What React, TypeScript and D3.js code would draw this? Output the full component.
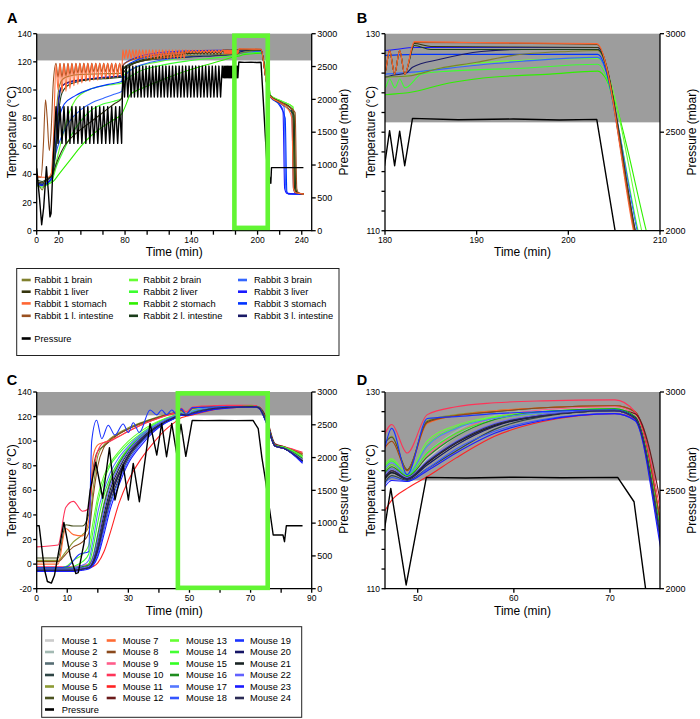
import React from 'react';
import * as d3 from 'd3';

type Pt = [number, number];
const FONT = 'Liberation Sans, Arial, Helvetica, sans-serif';
const zip = (t: number[], v: number[]): Pt[] => t.map((ti, i) => [ti, v[i]] as Pt);

// ---------------- Rabbit (panels A, B) ----------------
const rabbitPressurePre: Pt[] = [[0, 950], [2.5, 500], [4.5, 90], [6.3, 350], [8.8, 975], [10.5, 600], [12, 210], [13, 260], [15, 1100]];
const sawA1Times = [17.5, 19.3, 21.1, 22.9, 24.7, 26.5, 28.3, 30.1, 31.9, 33.7, 35.5, 37.3, 39.1, 40.9, 42.7, 44.5, 46.3, 48.1, 49.9, 51.7, 53.5, 55.3, 57.1, 58.9, 60.7, 62.5, 64.3, 66.1, 67.9, 69.7, 71.5, 73.3, 75.1, 76.9];
const rabbitPressureSaw1 = [1890, 1330, 1890, 1330, 1890, 1330, 1890, 1330, 1890, 1330, 1890, 1330, 1890, 1330, 1890, 1330, 1890, 1330, 1890, 1330, 1890, 1330, 1890, 1330, 1890, 1330, 1890, 1330, 1890, 1330, 1890, 1330, 1890, 1330];
const sawA2Times = [78, 79.5, 81, 82.5, 84, 85.5, 87, 88.5, 90, 91.5, 93, 94.5, 96, 97.5, 99, 100.5, 102, 103.5, 105, 106.5, 108, 109.5, 111, 112.5, 114, 115.5, 117, 118.5, 120, 121.5, 123, 124.5, 126, 127.5, 129, 130.5, 132, 133.5, 135, 136.5, 138, 139.5, 141, 142.5, 144, 145.5, 147, 148.5, 150, 151.5, 153, 154.5, 156, 157.5, 159, 160.5, 162, 163.5, 165, 166.5, 168];
const rabbitPressureSaw2 = [2507, 2036, 2507, 2036, 2507, 2036, 2507, 2036, 2507, 2036, 2507, 2036, 2507, 2036, 2507, 2036, 2507, 2036, 2507, 2036, 2507, 2036, 2507, 2036, 2507, 2036, 2507, 2036, 2507, 2036, 2507, 2036, 2507, 2036, 2507, 2036, 2507, 2036, 2507, 2036, 2507, 2036, 2507, 2036, 2507, 2036, 2507, 2036, 2507, 2036, 2507, 2036, 2507, 2036, 2507, 2036, 2507, 2036, 2507, 2036, 2507];
const rabbitPressureBridge: Pt[] = [[168.8, 2330]];
const osc3Times = [169.5, 170.05, 170.6, 171.15, 171.7, 172.25, 172.8, 173.35, 173.9, 174.45, 175, 175.55, 176.1, 176.65, 177.2, 177.75, 178.3, 178.85, 179.4, 179.95, 180.5, 181.05, 181.6, 182.15];
const rabbitPressureOsc3 = [2505, 2330, 2505, 2330, 2505, 2330, 2505, 2330, 2505, 2330, 2505, 2330, 2505, 2330, 2505, 2330, 2505, 2330, 2505, 2330, 2508, 2330, 2505, 2330];
const rabbitPressurePost: Pt[] = [[183, 2570], [188, 2563], [194, 2567], [199, 2562], [203.1, 2565], [205.1, 2000], [208.5, 1000], [212, 722], [212.6, 960], [241.5, 960]];
const osc3Temp = [128.3, 125.9, 128.3, 125.9, 128.3, 125.9, 128.3, 125.9, 128.3, 125.9, 128.3, 125.9, 128.3, 125.9, 128.3, 125.9, 128.3, 125.9, 128.3, 125.9, 128.3, 125.9, 128.3, 125.9];

const orangeSaw1 = [118, 100, 119, 98, 119, 99, 119, 101, 119, 103, 119, 104, 119, 105, 119, 106, 119, 106, 119, 107, 119, 107, 119, 108, 119, 108, 119, 108, 119, 109, 119, 109, 119, 110];
const brownSaw1 = [119, 109, 119, 109, 119, 110, 119, 111, 119, 111, 119, 112, 119, 112, 119, 112, 119, 112, 119, 113, 119, 113, 119, 113, 119, 113, 119, 113, 119, 113, 119, 113, 119, 113];
const orangeSaw2 = [128.5, 122.5, 128.5, 122.5, 128.5, 122.5, 128.5, 122.5, 128.5, 122.5, 128.5, 122.5, 128.5, 122.5, 128.5, 122.5, 128.5, 122.5, 128.5, 122.5, 128.5, 122.5, 128.5, 122.5, 128.5, 122.5, 128.5, 122.5, 128.5, 122.5, 128.5, 122.5, 128.5, 122.5, 128.5, 122.5, 128.5, 122.5, 128.5, 126.5, 128.3, 126.5, 128.3, 126.5, 128.3, 126.5, 128.3, 126.5, 128.3, 126.5, 128.3, 126.5, 128.3, 126.5, 128.3, 126.5, 128.3, 126.5, 128.3, 126.5, 128.3];
const liverZig = [128, 125.5, 128, 125.5, 128, 125.5, 128, 125.5, 128, 125.5, 128, 125.5, 128, 125.5, 128, 125.5, 128, 125.5, 128, 125.5, 128, 125.5, 128];

const r1BrainPts: Pt[] = [[0, 33], [3, 31], [5, 29], [7, 33], [10, 37], [13, 40], [15, 48], [17, 75], [19, 95], [21, 104], [24, 108], [30, 110], [40, 111], [60, 111.5], [77, 112], [78.5, 116], [90, 119.5], [110, 122.5], [140, 124.5], [170, 125.3], [180, 125.6], [182.5, 125.7], [186, 126.5], [190, 127.1], [194, 127.8], [200, 128.2], [203.2, 128.3], [207.2, 110], [210, 97.5], [212, 95.5], [222, 91], [230, 87], [233, 84], [234.5, 30], [236, 27], [242, 26]];
const r1LiverPre: Pt[] = [[0, 35], [5, 34], [10, 37], [14, 39], [17, 46], [20, 52], [25, 60], [30, 65], [40, 72], [50, 78], [60, 84], [70, 90], [77, 94], [78.5, 112], [85, 117.5], [95, 120.5], [110, 123], [125, 124.5], [133, 125.3]];
const r1LiverPost: Pt[] = [[183.2, 129], [185, 128.7], [203.2, 128.6], [207.3, 110], [210, 98], [212, 95.5], [222, 91], [232, 86], [233.5, 30], [235, 27], [242, 26]];
const r1StomachPre: Pt[] = [[0, 39], [5, 38], [10, 38], [13, 40], [15, 62]];
const r1StomachPost: Pt[] = [[183.2, 129.2], [190, 129.1], [203.1, 129], [207.1, 110], [210, 97], [212, 95], [220, 91], [228, 86], [231, 80], [232.5, 30], [234.5, 27], [242, 26]];
const r1IntestinePre: Pt[] = [[0, 38], [4, 38], [6, 60], [8, 93], [9.5, 80], [11.4, 57], [13, 70], [15, 105]];
const r1IntestineMid: Pt[] = [[78.5, 118], [85, 121], [100, 124], [120, 126], [150, 127.3], [168, 127.6]];
const r1IntestinePost: Pt[] = [[183.2, 129.1], [203.1, 128.9], [207.2, 110], [210, 97], [212, 95], [222, 91], [230, 87], [234, 84], [235.5, 30], [237, 27], [242, 26]];
const r2BrainPts: Pt[] = [[0, 34], [5, 33], [10, 35], [14, 38], [18, 50], [25, 72], [30, 85], [35, 93], [40, 97], [50, 101], [60, 103], [70, 104], [77, 105], [78.5, 110], [90, 116], [110, 120], [140, 123.5], [170, 125], [180, 125.6], [182.5, 125.7], [184, 126.1], [190, 127], [195, 127.3], [203.2, 127.5], [208, 110], [210, 101], [212, 96], [222, 92], [232, 88], [234, 30], [236, 26.5], [242, 26]];
const r2LiverPts: Pt[] = [[0, 32], [5, 31], [10, 33], [14, 36], [18, 46], [25, 58], [30, 66], [40, 78], [50, 86], [60, 90], [70, 92], [77, 94], [78.5, 105], [90, 112], [110, 117], [140, 121], [170, 123.5], [180, 124.5], [180.5, 125.4], [181.1, 124.5], [181.6, 125.4], [182.2, 124.5], [184, 125.9], [187, 126.2], [195, 126.5], [203.2, 126.9], [207.6, 110], [210, 99], [212, 95.5], [222, 91], [232, 86], [233.5, 30], [235.5, 26.5], [242, 26]];
const r2StomachPts: Pt[] = [[0, 32], [5, 32], [10, 33], [15, 35], [20, 40], [30, 50], [40, 60], [50, 68], [60, 74], [70, 79], [77, 83], [80, 88], [85, 97], [95, 101], [110, 106], [130, 112], [150, 117], [170, 121.5], [180, 123.8], [182.5, 124], [187, 125], [190.7, 125.5], [198, 125.9], [203.2, 126.2], [208.5, 110], [210, 104], [212, 96], [222, 92], [232, 88], [234, 30], [236, 26.5], [242, 26]];
const r2IntestinePre: Pt[] = [[0, 36], [5, 35], [10, 37], [14, 40], [17, 55], [20, 85], [23, 98], [30, 104], [45, 107], [60, 108], [77, 109], [78.5, 115], [90, 120], [110, 123.5], [140, 126], [168, 127.3]];
const r2IntestinePost: Pt[] = [[183.2, 128.8], [185, 128.4], [203.2, 128.4], [207.3, 110], [210, 98], [212, 95], [222, 90], [230, 85], [233, 82], [234.5, 30], [236, 27], [242, 26]];
const r3BrainPts: Pt[] = [[0, 33], [5, 33], [10, 34], [14, 38], [16, 50], [18, 57], [22, 66], [30, 78], [40, 86], [50, 91], [60, 94], [70, 97], [77, 99], [78.5, 108], [85, 114], [100, 119], [120, 122], [150, 124.5], [180, 125.9], [183, 126.1], [190, 126.8], [195, 127.2], [203.2, 127.6], [207.5, 110], [210, 98.5], [212, 95.5], [220, 91], [224, 88], [225.5, 30], [227, 26.5], [242, 26]];
const r3LiverPts: Pt[] = [[0, 33], [5, 32], [10, 34], [14, 39], [17, 62], [19, 88], [21, 100], [25, 104], [40, 107], [60, 109], [77, 110], [78.5, 118], [90, 123], [110, 126.5], [140, 127.8], [170, 128.2], [180, 128.3], [183.3, 128.6], [203.2, 128.6], [207.2, 110], [210, 97.5], [212, 95], [220, 90], [223, 85], [224.5, 30], [226.5, 26.5], [242, 26]];
const r3StomachPts: Pt[] = [[0, 33], [5, 33], [10, 34], [14, 38], [17, 55], [20, 78], [25, 90], [35, 96], [50, 101], [65, 104], [77, 106], [78.5, 115], [90, 121], [110, 125], [140, 127], [170, 127.7], [180, 127.8], [183.3, 127.9], [203.2, 127.9], [207.2, 110], [210, 97], [212, 94.5], [220, 89], [225, 80], [226.5, 28], [228, 26], [242, 26]];
const r3IntestinePts: Pt[] = [[0, 34], [5, 33], [10, 36], [14, 40], [17, 60], [20, 92], [23, 103], [30, 106], [50, 108], [77, 110], [78.5, 115], [90, 119.5], [110, 122], [140, 123.5], [170, 124.8], [180, 125.6], [181, 125.8], [182.3, 126], [183, 126.6], [186, 127.4], [190.5, 128.2], [195, 128.4], [203.2, 128.4], [207.2, 110], [210, 97], [212, 95], [222, 91], [229, 88], [231, 85], [232.5, 30], [234, 27], [242, 26]];

const rabbitNames = ['Rabbit 1 brain', 'Rabbit 1 liver', 'Rabbit 1 stomach', 'Rabbit 1 l. intestine', 'Rabbit 2 brain', 'Rabbit 2 liver', 'Rabbit 2 stomach', 'Rabbit 2 l. intestine', 'Rabbit 3 brain', 'Rabbit 3 liver', 'Rabbit 3 stomach', 'Rabbit 3 l. intestine'];
const rabbitColors = ['#80802e', '#35350f', '#ff6633', '#9a5020', '#66ff33', '#3cff30', '#30f000', '#1b3d1b', '#3366ff', '#1a1aff', '#0033ff', '#1a1a66'];

// ---------------- Mouse (panels C, D) ----------------
const mouseGrid = [0, 7, 9.5, 12, 15, 17, 18.5, 20, 22, 24, 27, 30, 34, 38, 42, 45.8, 47.3, 48.9, 51, 54, 58, 63, 70.5, 72.6, 75.2, 78, 81, 87];
const mouse1 = [-4, -4, -4, -3, -3, -2, 4, 18, 42, 62, 80, 92, 103, 111, 117, 120.5, 122.5, 121.3, 123.2, 125.5, 127.3, 128.1, 128.4, 127.6, 116, 96, 94.5, 86];
const mouse2 = [-3, -3, -3, -3, -2, 0, 8, 25, 50, 68, 84, 95, 105, 112, 117.5, 121, 122.8, 121.5, 123.8, 126, 127.6, 128.2, 128.4, 127.6, 116.5, 96.5, 95, 88];
const mouse3 = [-4, -4, -4, -4, -3, -2, 3, 14, 36, 56, 75, 89, 101, 110, 116, 120, 122, 121.2, 122.6, 124.6, 126.6, 127.7, 128.2, 127.4, 115.5, 96, 94, 84];
const mouse4 = [-5, -5, -5, -4, -4, -3, 1, 10, 30, 50, 70, 86, 99, 108, 115, 119.5, 121.5, 121, 122.2, 124, 126.2, 127.5, 128.1, 127.3, 115, 96, 94, 83];
const mouse5 = [3, 3, 10, 18, 24, 30, 62, 88, 97, 102, 107, 111, 115, 118.5, 121.5, 123.6, 125.5, 122.1, 127.1, 127.7, 128.1, 128.4, 128.6, 128, 117, 97, 95, 90];
const mouse6 = [5, 5, 32, 31, 31, 40, 78, 92, 96, 100, 106, 110, 114.5, 118, 121, 123.8, 125.4, 122.1, 127, 127.6, 128, 128.4, 128.6, 128, 117, 97, 95, 90];
const mouse7 = [0, 0, 29, 24, 23, 35, 88, 97, 99, 101, 104, 108, 113, 117, 120.5, 123, 125, 122, 126.8, 127.6, 128.1, 128.4, 128.6, 128, 117, 97, 95.5, 90];
const mouse8 = [2, 2, 8, 14, 18, 25, 55, 80, 95, 101, 106, 110, 114, 117.5, 121, 123.3, 125, 122, 126.9, 127.6, 128, 128.4, 128.6, 128, 117, 97, 95, 89];
const mouse9 = [-2, -2, -2, -2, -1, 0, 6, 22, 48, 66, 82, 93, 103, 111, 117, 120.8, 122.6, 121.4, 123.5, 125.8, 127.4, 128.2, 128.5, 127.7, 116, 96.5, 94.5, 86];
const mouse10 = [14, 15.5, 46, 51, 43, 45, 75, 92, 99, 100, 104, 108, 113, 117, 120.5, 124, 126.7, 123.8, 127.7, 128.5, 128.9, 129.1, 129.2, 128, 118, 97, 95.5, 91];
const mouse11 = [-5, -5, -5, -5, -4, -3, -2, 1, 10, 25, 50, 68, 85, 98, 109, 116.5, 119, 120.2, 121.4, 123.3, 125.5, 127, 127.8, 127.2, 115.5, 96, 94, 85];
const mouse12 = [-4, -4, -4, -4, -3, -2, 2, 12, 34, 54, 73, 88, 100, 109, 115.5, 120, 122, 121.2, 122.8, 124.8, 126.6, 127.6, 128.2, 127.8, 119, 98, 95.5, 88];
const mouse13 = [-3, -3, -2, 3, 8, 15, 35, 55, 72, 82, 92, 100, 108, 114, 118.5, 121.6, 123.2, 121.7, 125, 126.6, 127.5, 128, 128.3, 127.5, 116, 96.5, 95, 88];
const mouse14 = [-4, -4, -4, -2, 2, 8, 28, 50, 68, 80, 90, 98, 106, 113, 118, 121.4, 123, 121.6, 124.6, 126.4, 127.4, 128, 128.3, 127.5, 116, 96.5, 95, 87];
const mouse15 = [-4, -4, -4, -4, -3, 0, 14, 34, 56, 70, 84, 94, 104, 111.5, 117, 120.8, 122.6, 121.5, 123.8, 125.8, 127.2, 127.9, 128.3, 127.5, 116, 96.5, 94.5, 86];
const mouse16 = [-3, -3, -3, -3, -2, -1, 6, 24, 48, 66, 82, 93, 103, 111, 117, 120.6, 122.4, 121.4, 123.4, 125.5, 127.2, 128, 128.3, 127.5, 116, 96.5, 94.5, 86];
const mouse17 = [-4, -4, -4, -3, -1, 3, 20, 42, 60, 74, 87, 96, 105, 112, 117.5, 121.2, 122.8, 121.6, 124.5, 126.3, 127.3, 127.9, 128.1, 127.3, 115.5, 96, 94, 84];
const mouse18 = [-5, -5, -5, -5, -4, -3, 0, 8, 28, 48, 68, 84, 98, 108, 115, 119.4, 121.3, 120.9, 122.2, 124.2, 126, 127.2, 127.8, 127.1, 115, 96, 94, 83];
const mouse19Times = [0, 7, 10, 14, 17, 18, 19.6, 21.3, 23.4, 25.6, 28.3, 30, 31.6, 33.6, 37.1, 39.3, 40.9, 42.5, 44.2, 45.8, 47.3, 48.9, 51, 54, 58, 63, 70.5, 72.6, 75.2, 78, 81, 87];
const mouse19 = [-3, -3, -2, 8, 10, 100, 117, 102, 113, 105, 114, 107, 115, 107, 125.4, 121.4, 125.4, 121.5, 125.4, 122, 126.3, 121.6, 127.3, 127.5, 127.8, 128, 128.2, 127.4, 115.5, 96, 94, 83];
const mouse20 = [-5, -5, -5, -5, -4, -3, 1, 12, 34, 54, 73, 88, 100, 109, 115.5, 120, 121.8, 121.1, 122.6, 124.6, 126.5, 127.6, 128.1, 127.3, 115.5, 96, 94, 84];
const mouse21 = [-4, -4, -4, -4, -3, -2, 4, 18, 40, 60, 78, 91, 102, 110, 116, 120, 121.8, 121.2, 122.8, 124.8, 126.6, 127.6, 128.1, 127.4, 115.5, 96, 94, 84];
const mouse22 = [-4, -4, -4, -4, -3, -2, 5, 20, 44, 63, 80, 92, 103, 111, 116.5, 120.4, 122.2, 121.3, 123, 125, 126.8, 127.7, 128.1, 127.3, 115.5, 96, 94, 85];
const mouse23 = [-6, -6, -6, -6, -5, -4, -1, 6, 24, 44, 65, 82, 96, 107, 114.5, 119.2, 121, 120.9, 122, 123.8, 125.8, 127.1, 127.8, 127.1, 114.5, 96, 94, 82];
const mouse24 = [-5, -5, -5, -5, -4, -3, 2, 14, 36, 56, 75, 89, 101, 109.5, 116, 120.2, 122, 121.2, 122.9, 124.9, 126.7, 127.6, 128.1, 127.3, 115.5, 96, 94, 84];
const mousePressure: Pt[] = [[0, 960], [0.8, 960], [2.5, 300], [3.5, 110], [4.8, 85], [5.8, 200], [8.9, 1010], [11, 500], [12.8, 230], [13.6, 245], [15.5, 700], [17.5, 1500], [19.3, 1930], [21.6, 1380], [23.8, 2150], [25.6, 1353], [28.3, 1886], [30, 1353], [31.6, 1912], [33.6, 1327], [37.1, 2522], [39.3, 2039], [40.9, 2522], [42.5, 2013], [44.2, 2522], [45.8, 2065], [47.2, 2510], [48.8, 2019], [50.9, 2566], [55, 2563], [60, 2567], [65, 2564], [70.8, 2566], [72.5, 2442], [73.7, 2000], [74.7, 1708], [77.4, 819], [80.6, 819], [81.1, 717], [81.7, 960], [87, 960]];
const mouseColors = ['#cbcbcb', '#a3bab3', '#566d73', '#2e4545', '#8c9a33', '#4b5320', '#ff6a33', '#8b4a1c', '#ff5c8a', '#ff3358', '#ff2222', '#6b1a1a', '#66ff33', '#44ff33', '#33ff22', '#1f8c1f', '#5577ff', '#3355ff', '#1a33ff', '#141466', '#1a2424', '#6161ff', '#1a1aff', '#2b2b55'];

type Series = { name: string; color: string; data: Pt[] };

const rabbitData: Pt[][] = [
  r1BrainPts,
  [...r1LiverPre, ...zip(sawA2Times.slice(38), liverZig), ...zip(osc3Times, osc3Temp), ...r1LiverPost],
  [...r1StomachPre, ...zip(sawA1Times, orangeSaw1), ...zip(sawA2Times, orangeSaw2), ...zip(osc3Times, osc3Temp), ...r1StomachPost],
  [...r1IntestinePre, ...zip(sawA1Times, brownSaw1), ...r1IntestineMid, ...zip(osc3Times, osc3Temp), ...r1IntestinePost],
  r2BrainPts, r2LiverPts, r2StomachPts,
  [...r2IntestinePre, ...zip(osc3Times, osc3Temp), ...r2IntestinePost],
  r3BrainPts, r3LiverPts, r3StomachPts, r3IntestinePts,
];
const rabbitSeries: Series[] = rabbitNames.map((n, i) => ({ name: n, color: rabbitColors[i], data: rabbitData[i] }));
const rabbitDraw = [6, 5, 4, 8, 10, 9, 11, 0, 7, 1, 3, 2].map((i) => rabbitSeries[i]);
const rabbitPressure: Pt[] = [
  ...rabbitPressurePre,
  ...zip(sawA1Times, rabbitPressureSaw1),
  ...zip(sawA2Times, rabbitPressureSaw2),
  ...rabbitPressureBridge,
  ...zip(osc3Times, rabbitPressureOsc3),
  ...rabbitPressurePost,
];

const mouseValues = [mouse1, mouse2, mouse3, mouse4, mouse5, mouse6, mouse7, mouse8, mouse9, mouse10, mouse11, mouse12, mouse13, mouse14, mouse15, mouse16, mouse17, mouse18, mouse19, mouse20, mouse21, mouse22, mouse23, mouse24];
const mouseSeries: Series[] = mouseValues.map((v, i) => ({
  name: `Mouse ${i + 1}`,
  color: mouseColors[i],
  data: i === 18 ? zip(mouse19Times, v) : zip(mouseGrid, v),
}));

const STERIL = 121;

interface PanelProps {
  letter: string;
  letterPos: [number, number];
  box: { l: number; r: number; t: number; b: number };
  xDomain: [number, number];
  yDomain: [number, number];
  pDomain: [number, number];
  xTicks: number[];
  xLabels: number[];
  yTicks: number[];
  yLabels: number[];
  pTicks: number[];
  series: Series[];
  pressure: Pt[];
  greenBox?: { t0: number; t1: number; v0: number; v1: number };
  xLabelDy: number;
  xTitleDy: number;
  yTitleX: number;
  pTitleX: number;
}

function Panel(p: PanelProps) {
  const { box } = p;
  const x = d3.scaleLinear().domain(p.xDomain).range([box.l, box.r]);
  const y = d3.scaleLinear().domain(p.yDomain).range([box.b, box.t]);
  const py = d3.scaleLinear().domain(p.pDomain).range([box.b, box.t]);
  const line = d3.line<Pt>().x((d) => x(d[0])).y((d) => y(d[1])).curve(d3.curveMonotoneX);
  const pline = d3.line<Pt>().x((d) => x(d[0])).y((d) => py(d[1]));
  const clipId = `clip${p.letter}`;
  const midY = (box.t + box.b) / 2;
  const midX = (box.l + box.r) / 2;
  return (
    <g>
      <defs>
        <clipPath id={clipId}>
          <rect x={box.l} y={box.t} width={box.r - box.l} height={box.b - box.t} />
        </clipPath>
      </defs>
      <rect x={box.l} y={y(p.yDomain[1])} width={box.r - box.l} height={y(STERIL) - y(p.yDomain[1])} fill="#9d9d9d" />
      <g clipPath={`url(#${clipId})`}>
        {p.series.map((s) => (
          <path key={s.name} d={line(s.data) || ''} fill="none" stroke={s.color} strokeWidth={1.1} strokeLinejoin="round" />
        ))}
        <path d={pline(p.pressure) || ''} fill="none" stroke="#000" strokeWidth={1.4} strokeLinejoin="round" />
      </g>
      <g stroke="#000" strokeWidth={1.3}>
        <line x1={box.l} x2={box.l} y1={box.t} y2={box.b + 0.6} />
        <line x1={box.r} x2={box.r} y1={box.t} y2={box.b + 0.6} />
        <line x1={box.l} x2={box.r} y1={box.b} y2={box.b} />
        {p.xTicks.map((t) => (
          <line key={'xt' + t} x1={x(t)} x2={x(t)} y1={box.b} y2={box.b + 4} />
        ))}
        {p.yTicks.map((t) => (
          <line key={'yt' + t} x1={box.l - 3.5} x2={box.l} y1={y(t)} y2={y(t)} />
        ))}
        {p.pTicks.map((t) => (
          <line key={'pt' + t} x1={box.r} x2={box.r + 4} y1={py(t)} y2={py(t)} />
        ))}
      </g>
      <g fontSize={8.5} fill="#000">
        {p.xLabels.map((t) => (
          <text key={'xl' + t} x={x(t)} y={box.b + p.xLabelDy} textAnchor="middle">{String(t)}</text>
        ))}
        {p.yLabels.map((t) => (
          <text key={'yl' + t} x={box.l - 5} y={y(t)} dy="0.35em" textAnchor="end">{String(t)}</text>
        ))}
        {p.pTicks.map((t) => (
          <text key={'pl' + t} x={box.r + 5.5} y={py(t)} dy="0.35em" textAnchor="start" fontSize={9}>{String(t)}</text>
        ))}
      </g>
      <text x={midX} y={box.b + p.xTitleDy} textAnchor="middle" fontSize={12}>Time (min)</text>
      <text transform={`translate(${p.yTitleX},${midY}) rotate(-90)`} textAnchor="middle" fontSize={12}>Temperature (°C)</text>
      <text transform={`translate(${p.pTitleX},${midY}) rotate(-90)`} textAnchor="middle" fontSize={12}>Pressure (mbar)</text>
      {p.greenBox && (
        <rect
          x={x(p.greenBox.t0)}
          y={y(p.greenBox.v1)}
          width={x(p.greenBox.t1) - x(p.greenBox.t0)}
          height={y(p.greenBox.v0) - y(p.greenBox.v1)}
          fill="none"
          stroke="#62f533"
          strokeWidth={4.6}
        />
      )}
      <text x={p.letterPos[0]} y={p.letterPos[1]} fontSize={14.5} fontWeight="bold">{p.letter}</text>
    </g>
  );
}

interface LegendProps {
  rect: [number, number, number, number];
  sampleX: number[];
  textX: number[];
  rowY: number[];
  sampleLen: number;
  items: { label: string; color: string; col: number; row: number }[];
}

function Legend(p: LegendProps) {
  return (
    <g>
      <rect x={p.rect[0]} y={p.rect[1]} width={p.rect[2]} height={p.rect[3]} fill="#fff" stroke="#222" strokeWidth={1} />
      {p.items.map((it) => (
        <g key={it.label}>
          <line x1={p.sampleX[it.col]} x2={p.sampleX[it.col] + p.sampleLen} y1={p.rowY[it.row]} y2={p.rowY[it.row]} stroke={it.color} strokeWidth={2.6} />
          <text x={p.textX[it.col]} y={p.rowY[it.row]} dy="0.35em" fontSize={9.3}>{it.label}</text>
        </g>
      ))}
    </g>
  );
}

const range = (a: number, b: number, s: number) => d3.range(a, b + s / 2, s);

export default function App() {
  const topBox = { t: 33.7, b: 230.7 };
  const botBox = { t: 392, b: 588.7 };
  const legendAItems = [
    ...rabbitSeries.map((s, i) => ({ label: s.name, color: s.color, col: Math.floor(i / 4), row: i % 4 })),
    { label: 'Pressure', color: '#000', col: 0, row: 4 },
  ];
  const legendCItems = [
    ...mouseSeries.map((s, i) => ({ label: s.name, color: s.color, col: Math.floor(i / 6), row: i % 6 })),
    { label: 'Pressure', color: '#000', col: 0, row: 6 },
  ];
  return (
    <svg width={700} height={719} style={{ position: 'absolute', left: 0, top: 0 }} fontFamily={FONT}>
      <rect width={700} height={719} fill="#fff" />
      <Panel
        letter="A" letterPos={[7, 23.3]}
        box={{ l: 36.7, r: 311.7, ...topBox }}
        xDomain={[0, 249]} yDomain={[0, 140]} pDomain={[0, 3000]}
        xTicks={range(0, 240, 20)} xLabels={[0, 20, 80, 140, 200, 240]}
        yTicks={range(0, 140, 20)} yLabels={range(0, 140, 20)} pTicks={range(0, 3000, 500)}
        series={rabbitDraw} pressure={rabbitPressure}
        greenBox={{ t0: 179, t1: 209.2, v0: 2, v1: 138.6 }}
        xLabelDy={12.3} xTitleDy={25.4} yTitleX={15.5} pTitleX={347.5}
      />
      <Panel
        letter="B" letterPos={[356.7, 23.3]}
        box={{ l: 385, r: 660, ...topBox }}
        xDomain={[180, 210]} yDomain={[110, 130]} pDomain={[2000, 3000]}
        xTicks={[180, 190, 200, 210]} xLabels={[180, 190, 200, 210]}
        yTicks={range(110, 130, 2)} yLabels={[110, 130]} pTicks={[2000, 2500, 3000]}
        series={rabbitDraw} pressure={rabbitPressure}
        xLabelDy={12.3} xTitleDy={25.4} yTitleX={375} pTitleX={695.5}
      />
      <Panel
        letter="C" letterPos={[6.7, 385]}
        box={{ l: 36.7, r: 311.7, ...botBox }}
        xDomain={[0, 90]} yDomain={[-20, 140]} pDomain={[0, 3000]}
        xTicks={range(0, 90, 10)} xLabels={[0, 10, 30, 50, 70, 90]}
        yTicks={range(-20, 140, 20)} yLabels={range(-20, 140, 20)} pTicks={range(0, 3000, 500)}
        series={mouseSeries} pressure={mousePressure}
        greenBox={{ t0: 46.2, t1: 75.6, v0: -19.3, v1: 138.9 }}
        xLabelDy={12.3} xTitleDy={25.8} yTitleX={15.5} pTitleX={347.5}
      />
      <Panel
        letter="D" letterPos={[356.7, 385]}
        box={{ l: 385, r: 660, ...botBox }}
        xDomain={[46.6, 75.2]} yDomain={[110, 130]} pDomain={[2000, 3000]}
        xTicks={[50, 60, 70]} xLabels={[50, 60, 70]}
        yTicks={range(110, 130, 2)} yLabels={[110, 130]} pTicks={[2000, 2500, 3000]}
        series={mouseSeries} pressure={mousePressure}
        xLabelDy={12.3} xTitleDy={25.8} yTitleX={375} pTitleX={695.5}
      />
      <Legend
        rect={[16.7, 268.5, 322.3, 87]}
        sampleX={[21.7, 129, 238]} textX={[34.3, 143.3, 254]}
        rowY={[280, 291.7, 303.4, 315.8, 338.5]} sampleLen={9}
        items={legendAItems}
      />
      <Legend
        rect={[41.7, 626.7, 260, 90.6]}
        sampleX={[45, 106.7, 170, 235]} textX={[61.7, 122.7, 186, 250]}
        rowY={[640.5, 652, 663.5, 675, 686.5, 698, 709.5]} sampleLen={9}
        items={legendCItems}
      />
    </svg>
  );
}
